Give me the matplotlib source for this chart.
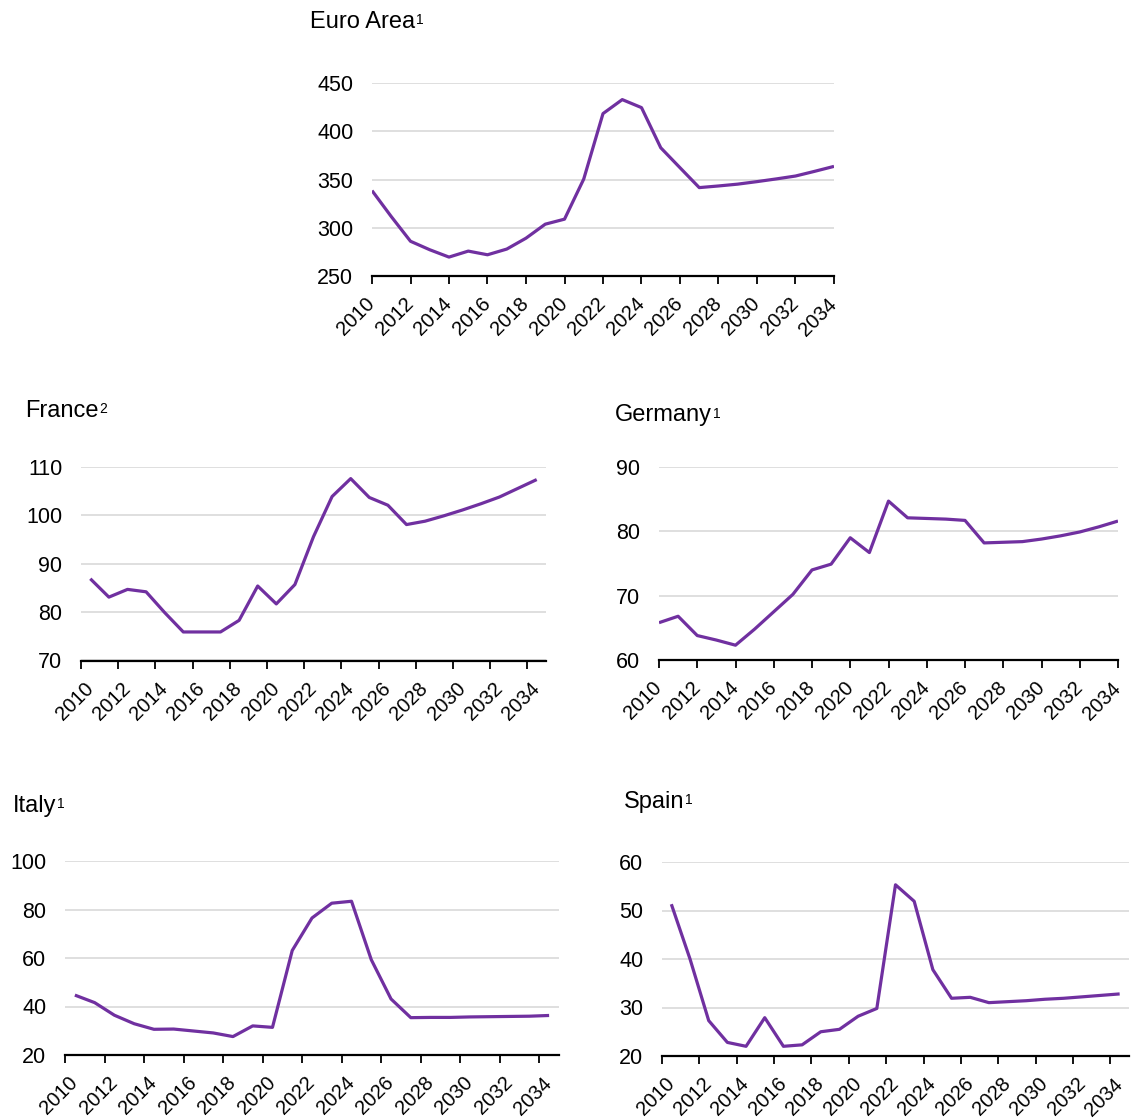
"""Five small line panels: Euro Area, France, Germany, Italy, Spain (2010-2034)."""
import matplotlib.pyplot as plt

plt.rcParams['font.family'] = ['Liberation Sans', 'DejaVu Sans']

years = list(range(2010, 2035))

euro_area = [338.5, 311.6, 286.0, 277.2, 269.6, 275.8, 272.0, 277.9, 289.2, 303.7,
             308.9, 350.5, 418.3, 432.8, 424.5, 382.9, 362.2, 341.6, 343.3, 345.2,
             347.8, 350.6, 353.6, 358.5, 363.6]
france = [86.9, 83.1, 84.7, 84.2, 79.9, 75.9, 75.9, 75.9, 78.3, 85.4,
          81.7, 85.7, 95.6, 103.9, 107.6, 103.7, 102.1, 98.1, 98.8, 99.9,
          101.1, 102.4, 103.8, 105.6, 107.4]
germany = [65.8, 66.8, 63.8, 63.1, 62.3, 64.8, 67.5, 70.2, 74.0, 74.9,
           79.0, 76.7, 84.7, 82.1, 82.0, 81.9, 81.7, 78.2, 78.3, 78.4,
           78.8, 79.3, 79.9, 80.7, 81.6]
italy = [44.7, 41.6, 36.4, 32.9, 30.6, 30.7, 29.9, 29.1, 27.6, 32.0,
         31.4, 63.1, 76.5, 82.6, 83.4, 59.3, 43.1, 35.4, 35.5, 35.5,
         35.7, 35.8, 35.9, 36.0, 36.3]
spain = [51.3, 40.0, 27.3, 22.8, 22.0, 27.9, 22.0, 22.3, 25.0, 25.5,
         28.2, 29.8, 55.3, 51.9, 37.8, 31.9, 32.1, 31.0, 31.2, 31.4,
         31.7, 31.9, 32.2, 32.5, 32.8]

W, H = 1133, 1118
PURPLE = '#7030A0'


def rect(x0, x1, y0, y1):
    return [x0 / W, 1 - y1 / H, (x1 - x0) / W, (y1 - y0) / H]


# name, note, values, y-range, y-step, pixel box, on-tick?, title pos (x, baseline)
panels = [
    ('Euro Area', '1', euro_area, (250, 450), 50, (372, 834, 83, 276), True, (310, 28)),
    ('France', '2', france, (70, 110), 10, (81, 546, 467, 660.5), False, (25, 417)),
    ('Germany', '1', germany, (60, 90), 10, (659, 1118, 467, 660), True, (615, 421)),
    ('Italy', '1', italy, (20, 100), 20, (65, 559, 861, 1055), False, (13, 812)),
    ('Spain', '1', spain, (20, 60), 10, (662, 1129, 862, 1056), False, (624, 808)),
]

fig = plt.figure(figsize=(W / 100, H / 100), dpi=100)

for name, note, vals, (lo, hi), step, box, on_tick, (tx, ty) in panels:
    ax = fig.add_axes(rect(*box))
    x = list(range(len(years)))
    ax.plot(x, vals, color=PURPLE, lw=2.3, solid_capstyle='butt', zorder=3)

    ax.set_ylim(lo, hi)
    ax.set_yticks(list(range(lo, hi + 1, step)))
    ax.yaxis.grid(True, color='#d9d9d9', lw=1.2)
    ax.set_axisbelow(True)
    ax.tick_params(axis='y', length=0, pad=13.5, labelsize=15.5)

    label_pos = x[::2]
    ax.set_xticks(label_pos)
    ax.set_xticklabels([str(years[i]) for i in label_pos], rotation=45,
                       ha='right', va='center', rotation_mode='anchor', fontsize=14.5)
    if on_tick:
        ax.set_xlim(0, len(years) - 1)
        ax.tick_params(axis='x', length=6, width=1.3, direction='out', pad=12)
    else:
        ax.set_xlim(-0.5, len(years) - 0.5)
        ax.set_xticks([i - 0.5 for i in label_pos], minor=True)
        ax.tick_params(axis='x', which='major', length=0, pad=18)
        ax.tick_params(axis='x', which='minor', length=6, width=1.3, direction='out')

    for s in ('left', 'right', 'top'):
        ax.spines[s].set_visible(False)
    ax.spines['bottom'].set_linewidth(1.6)
    ax.spines['bottom'].set_zorder(4)

    # title with a raised footnote number
    t = fig.text(tx / W, 1 - ty / H, name, fontsize=17, ha='left', va='baseline')
    ax.annotate(note, xy=(1, 1), xycoords=t, xytext=(0.5, -1.8),
                textcoords='offset points', fontsize=10, ha='left', va='top')

fig.savefig('out.png', dpi=100)
